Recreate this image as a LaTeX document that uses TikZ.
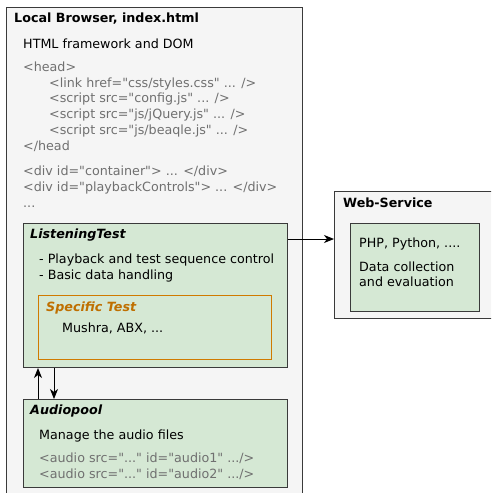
\documentclass[tikz,border=0pt]{standalone}
\usepackage{fontspec}
\setmainfont{DejaVu Sans}[Ligatures=TeXOff]
\usetikzlibrary{arrows.meta}
\definecolor{outerfill}{HTML}{F5F5F5}
\definecolor{greenfill}{HTML}{D5E8D4}
\definecolor{edgegray}{HTML}{3A3A3A}
\definecolor{codegray}{HTML}{707070}
\definecolor{orangeline}{HTML}{D07A00}
\definecolor{orangetext}{HTML}{BF6F00}
\tikzset{
  outerbox/.style={draw=edgegray, fill=outerfill, line width=1pt},
  greenbox/.style={draw=edgegray, fill=greenfill, line width=1pt},
  orangebox/.style={draw=orangeline, line width=1pt},
  txt/.style={anchor=base west, inner sep=0pt, font=\fontsize{12.7}{14}\selectfont, text=black},
  code/.style={txt, text=codegray},
  ttl/.style={txt, font=\fontsize{12.7}{14}\selectfont\bfseries},
  ittl/.style={txt, font=\fontsize{12.7}{14}\selectfont\bfseries\itshape},
  conn/.style={draw=black, line width=1pt, -{Stealth[length=10pt,width=8pt,inset=3pt]}}
}
\begin{document}
\begin{tikzpicture}[x=1pt, y=-1pt]
\useasboundingbox (0,0) rectangle (491,493);
\begin{scope}
\clip (0,0) rectangle (491,493);
% outer browser box
\draw[outerbox] (6,7) rectangle (302,500);
% web-service box
\draw[outerbox] (334,191) rectangle (500,318);
\end{scope}
\node[ttl] (lbt) at (14,22) {Local Browser, index.html};
\node[txt] (html) at (23,48) {HTML framework and DOM};
\node[code] (h1) at (23,71) {<head>};
\node[code] (h2) at (49,87) {<link href="css/styles.css" ... />};
\node[code] (h3) at (49,102) {<script src="config.js" ... />};
\node[code] (h4) at (49,118) {<script src="js/jQuery.js" ... />};
\node[code] (h5) at (49,134) {<script src="js/beaqle.js" ... />};
\node[code] (h6) at (23,150) {</head};
\node[code] (d1) at (23,175) {<div id="container"> ... </div>};
\node[code] (d2) at (23,191) {<div id="playbackControls"> ... </div>};
\node[code] (d3) at (23,207) {...};

% ListeningTest
\node[greenbox, minimum width=264pt, minimum height=144pt, anchor=north west, inner sep=0pt] (lt) at (23,223) {};
\node[ittl] (ltt) at (30,238) {ListeningTest};
\node[txt] (lt1) at (39,263) {- Playback and test sequence control};
\node[txt] (lt2) at (39,279) {- Basic data handling};
\node[orangebox, minimum width=233pt, minimum height=64pt, anchor=north west, inner sep=0pt] (st) at (38,295) {};
\node[ittl, text=orangetext] (stt) at (46,311) {Specific Test};
\node[txt] (st1) at (62,332) {Mushra, ABX, ...};

% Audiopool
\node[greenbox, minimum width=264pt, minimum height=88pt, anchor=north west, inner sep=0pt] (ap) at (23,399) {};
\node[ittl] (apt) at (30,414) {Audiopool};
\node[txt] (ap1) at (39,439) {Manage the audio files};
\node[code] (ap2) at (39,462) {<audio src="..." id="audio1" .../>};
\node[code] (ap3) at (39,478) {<audio src="..." id="audio2" .../>};

% Web-Service
\node[ttl] (wst) at (343,207) {Web-Service};
\node[greenbox, minimum width=129pt, minimum height=88pt, anchor=north west, inner sep=0pt] (ws) at (350,223) {};
\node[txt] (ws1) at (359,247) {PHP, Python, ....};
\node[txt] (ws2) at (359,271) {Data collection};
\node[txt] (ws3) at (359,286) {and evaluation};

% connectors
\coordinate (wsin) at (334,239);
\draw[conn] (lt.east |- wsin) -- (wsin);
\draw[conn] (ap.north west) ++(15,0) coordinate (upa) -- (upa |- lt.south);
\draw[conn] (lt.south west) ++(31,0) coordinate (dna) -- (dna |- ap.north);
\end{tikzpicture}
\end{document}
